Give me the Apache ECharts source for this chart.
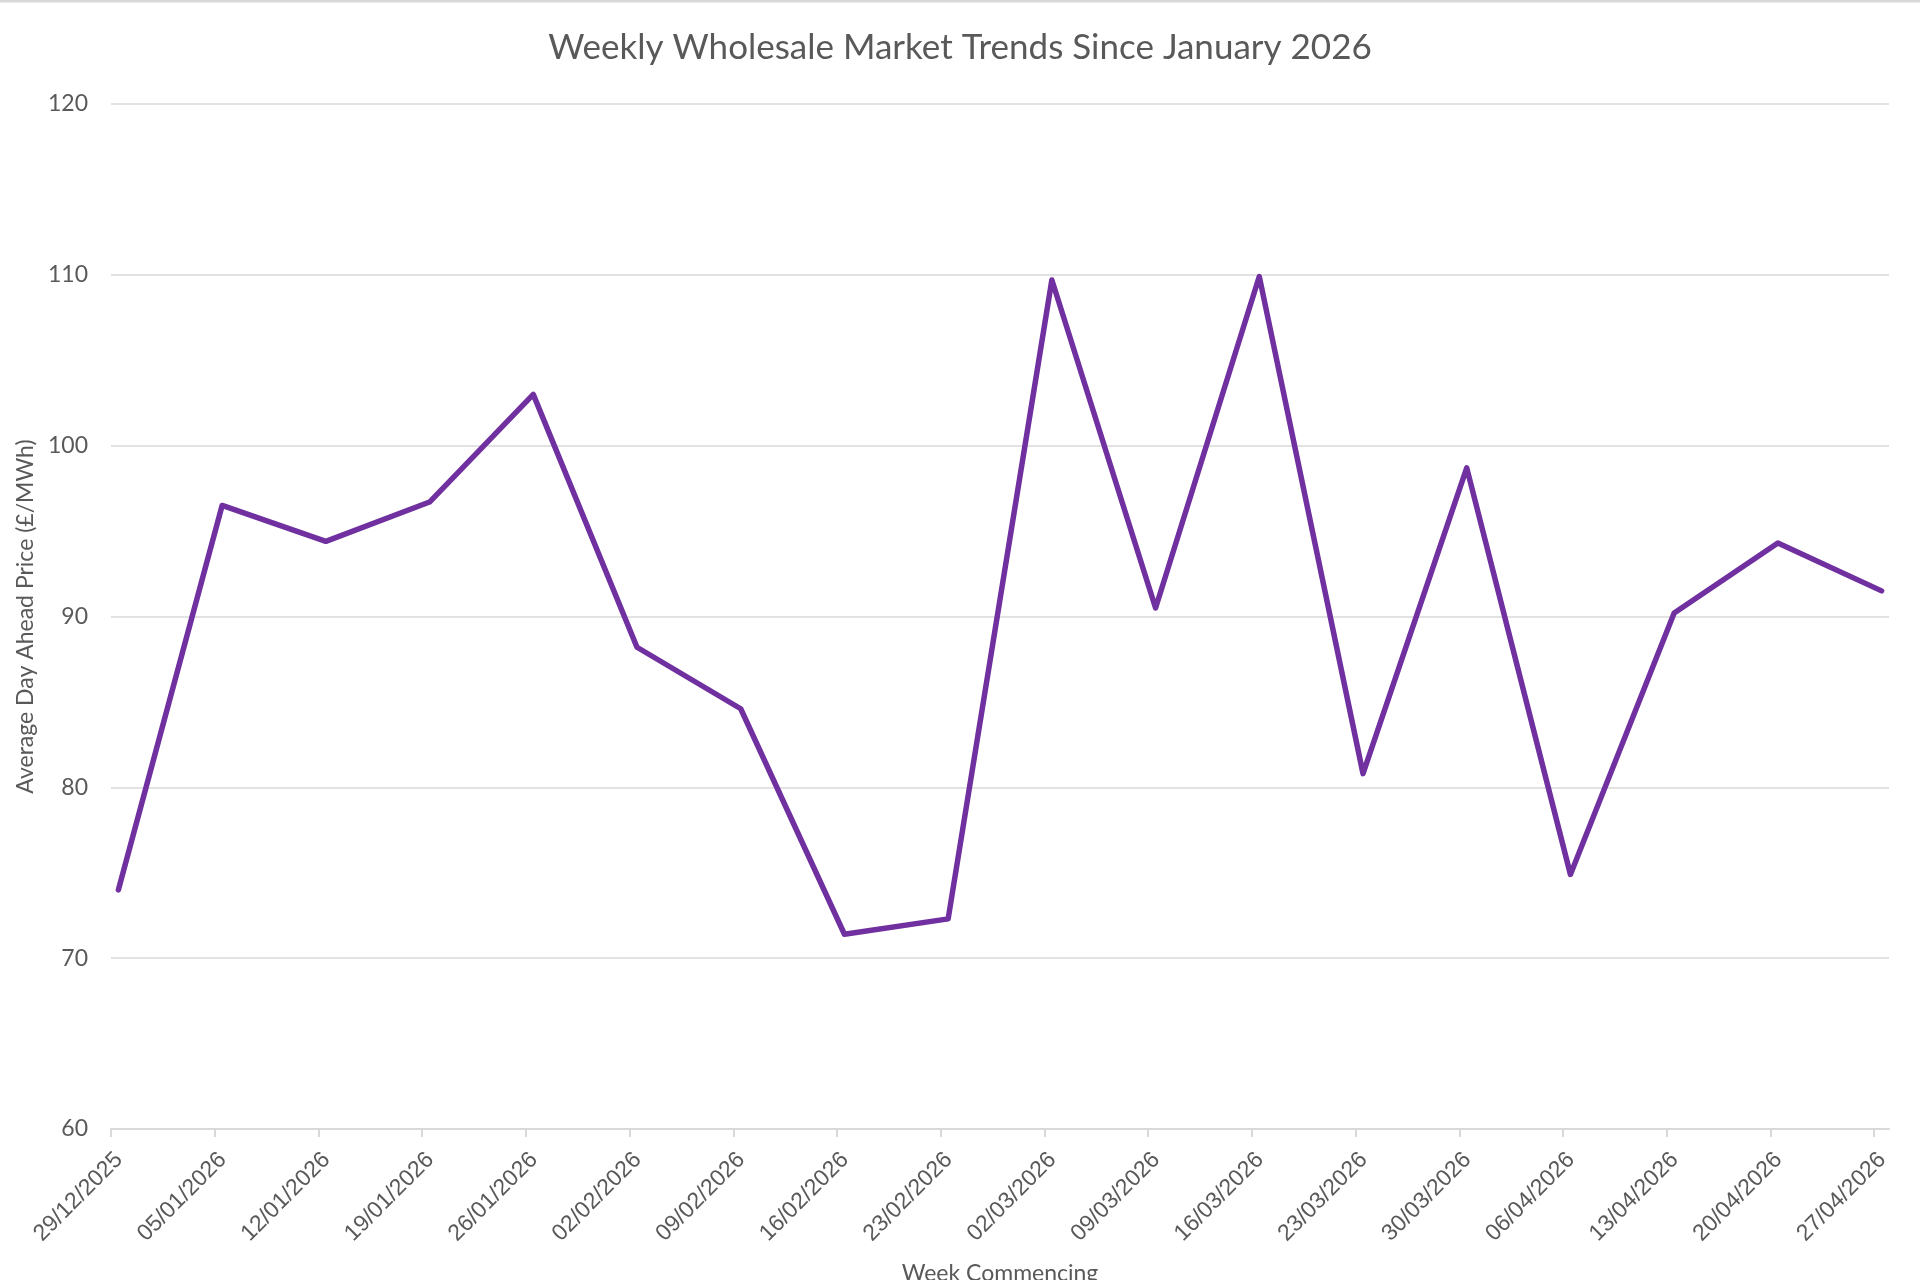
<!DOCTYPE html>
<html>
<head>
<meta charset="utf-8">
<title>Weekly Wholesale Market Trends</title>
<script type="text/javascript" src="https://cdn.jsdelivr.net/npm/echarts@6.0.0/dist/echarts.min.js"></script>
<style type="text/css">
	html, body {
    margin: 0;
    padding: 0;
    background: #ffffff;
}
	#main {
    width: 1920px;
    height: 1280px;
}
</style>
</head>
<body>
<div id="main"></div>
<script type="text/javascript">
        // week commencing dates (Mondays)
        var weeks = ['2025-12-29', '2026-01-05', '2026-01-12', '2026-01-19', '2026-01-26',
                     '2026-02-02', '2026-02-09', '2026-02-16', '2026-02-23', '2026-03-02',
                     '2026-03-09', '2026-03-16', '2026-03-23', '2026-03-30', '2026-04-06',
                     '2026-04-13', '2026-04-20', '2026-04-27'];
        // average day ahead price, £/MWh
        var prices = [74.0, 96.5, 94.4, 96.7, 103.0, 88.2, 84.6, 71.4, 72.3, 109.7,
                      90.5, 109.9, 80.8, 98.7, 74.9, 90.2, 94.3, 91.5];
        var yTicks = [60, 70, 80, 90, 100, 110, 120];

        var DAY = 86400000;
        function toUTC(s) {
            var p = s.split('-');
            return Date.UTC(+p[0], +p[1] - 1, +p[2]);
        }
        function pad(n) { return n < 10 ? '0' + n : '' + n; }

        var t0 = toUTC(weeks[0]);
        // x axis counts days from the first week commencing date
        var weekDays = weeks.map(function (s) { return Math.round((toUTC(s) - t0) / DAY); });
        function fmtDay(v) {
            var d = new Date(t0 + Math.round(v) * DAY);
            return pad(d.getUTCDate()) + '/' + pad(d.getUTCMonth() + 1) + '/' + d.getUTCFullYear();
        }
        // Excel date axis puts each point in the middle of its day
        var seriesData = weekDays.map(function (d, i) {
            return [d + 0.5, prices[i]];
        });

        var textColor = '#595959';
        var lineGrey = '#d9d9d9';

        var myChart = echarts.init(document.getElementById('main'));

        var option = {
            animation: false,
            backgroundColor: '#ffffff',
            title: {
                text: 'Weekly Wholesale Market Trends Since January 2026',
                left: 'center',
                top: 25,
                textStyle: {
                    color: textColor,
                    fontFamily: 'Lato',
                    fontWeight: 'normal',
                    fontSize: 35
                }
            },
            graphic: [{
                type: 'line',
                shape: { x1: 0, y1: 1, x2: 1920, y2: 1 },
                style: { stroke: lineGrey, lineWidth: 3 }
            }],
            grid: {
                left: 111,
                right: 31,
                top: 104,
                bottom: 151,
                outerBoundsMode: 'none',
                containLabel: false
            },
            xAxis: {
                type: 'value',
                min: 0,
                max: weekDays[weekDays.length - 1] + 1,
                name: 'Week Commencing',
                nameLocation: 'middle',
                nameGap: 133,
                nameTextStyle: {
                    color: textColor,
                    fontFamily: 'Lato',
                    fontSize: 23
                },
                axisLine: { show: true, lineStyle: { color: lineGrey, width: 2 } },
                axisTick: {
                    show: true,
                    length: 8,
                    customValues: weekDays,
                    lineStyle: { color: lineGrey, width: 2 }
                },
                axisLabel: {
                    customValues: weekDays,
                    rotate: 45,
                    margin: 19,
                    verticalAlign: 'top',
                    color: textColor,
                    fontFamily: 'Liberation Sans',
                    fontSize: 23,
                    formatter: function (v) { return fmtDay(v); }
                },
                splitLine: { show: false }
            },
            yAxis: {
                type: 'value',
                min: yTicks[0],
                max: yTicks[yTicks.length - 1],
                interval: 10,
                name: 'Average Day Ahead Price (£/MWh)',
                nameLocation: 'middle',
                nameGap: 74,
                nameTextStyle: {
                    color: textColor,
                    fontFamily: 'Lato',
                    fontSize: 23
                },
                axisLine: { show: false },
                axisTick: { show: false },
                axisLabel: {
                    margin: 23,
                    color: textColor,
                    fontFamily: 'Lato',
                    fontSize: 23
                },
                splitLine: { lineStyle: { color: lineGrey, width: 1.5 } }
            },
            series: [{
                name: 'Average Day Ahead Price',
                type: 'line',
                data: seriesData,
                showSymbol: false,
                symbol: 'none',
                lineStyle: { color: '#7030a0', width: 5.5, join: 'round', cap: 'round' }
            }]
        };

        myChart.setOption(option);
</script>
</body>
</html>
